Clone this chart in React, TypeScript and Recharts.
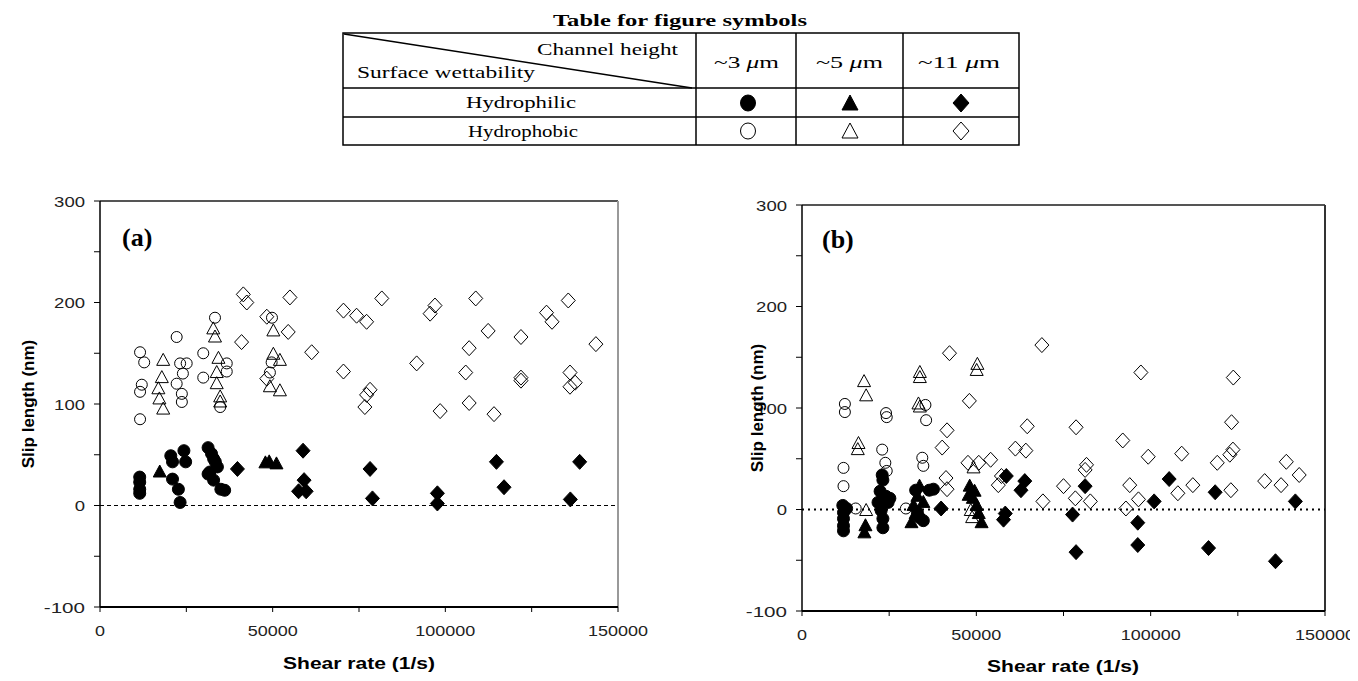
import React from 'react';
import { ScatterChart, Scatter, XAxis, YAxis, ReferenceLine } from 'recharts';

// axis ticks (labels only on every other tick)
const xTicks = [0, 25000, 50000, 75000, 100000, 125000, 150000];
const xLabels = [0, 50000, 100000, 150000];
const yTicks = [-100, -50, 0, 50, 100, 150, 200, 250, 300];
const yLabels = [-100, 0, 100, 200, 300];

// (a) hydrophilic
const aPhilic3 = [[11500, 28], [11500, 23], [11500, 16], [11500, 12], [20500, 49], [21000, 43], [24300, 54], [24800, 43], [21000, 26], [22700, 16], [23200, 3], [31300, 57], [32300, 51], [33400, 43], [31800, 33], [32900, 25], [35000, 16], [36100, 15], [31300, 31], [34000, 38], [32900, 46]];
const aPhilic5 = [[17300, 33], [47900, 42], [49000, 43], [51100, 41]];
const aPhilic11 = [[39800, 36], [58800, 54], [59100, 25], [57500, 14], [59700, 14], [78200, 36], [78900, 7], [97700, 12], [97700, 2], [114800, 43], [117000, 18], [136200, 6], [138900, 43]];
// (a) hydrophobic
const aPhobic3 = [[11600, 151], [12800, 141], [12100, 119], [11600, 112], [11600, 85], [22200, 166], [23200, 140], [25100, 140], [22200, 120], [23700, 110], [23700, 102], [24000, 130], [29900, 150], [29900, 126], [33300, 185], [34800, 97], [36700, 140], [36700, 132], [49700, 141], [49200, 131], [49800, 185]];
const aPhobic5 = [[18300, 143], [17900, 126], [16900, 115], [17200, 105], [18300, 95], [32800, 174], [33300, 166], [34300, 145], [33800, 131], [33800, 120], [34800, 107], [34800, 102], [50200, 172], [50200, 149], [52100, 143], [49200, 117], [52100, 113]];
const aPhobic11 = [[41500, 208], [42500, 200], [41000, 161], [48300, 186], [55000, 205], [54500, 171], [61300, 151], [48300, 125], [70500, 192], [74300, 187], [77200, 181], [81600, 204], [70500, 132], [78200, 114], [77200, 109], [76700, 97], [91700, 140], [95600, 189], [97000, 197], [98500, 93], [108800, 204], [112400, 172], [106900, 155], [105900, 131], [106900, 101], [114100, 90], [121900, 166], [121900, 126], [121900, 123], [129300, 190], [130900, 181], [135600, 202], [136100, 131], [137600, 121], [136100, 117], [143600, 159]];

// (b) hydrophilic
const bPhilic3 = [[11700, 4], [11900, -3], [11900, -9], [11900, -16], [11900, -21], [12800, 1], [23000, 34], [23200, 29], [22400, 18], [24100, 13], [24700, 7], [21800, 7], [22700, -1], [23200, -9], [23200, -18], [25200, 11], [32600, 19], [33100, -3], [33700, -8], [34800, -11], [36500, 19], [37700, 20]];
const bPhilic5 = [[18200, -16], [17900, -23], [33700, 23], [33100, 13], [32000, 4], [32600, -4], [31400, -13], [34800, 7], [48100, 23], [49500, 18], [49000, 11], [50100, 4], [50700, -4], [51500, -13], [47800, 14]];
const bPhilic11 = [[39900, 1], [58600, 33], [58300, -4], [57800, -10], [62800, 19], [63900, 28], [77600, -5], [78600, -42], [81200, 23], [96300, -13], [96300, -35], [101000, 8], [105300, 30], [116600, -38], [118500, 17], [135800, -51], [141500, 8]];
// (b) hydrophobic
const bPhobic3 = [[12300, 104], [12300, 96], [11900, 41], [11900, 23], [15400, 1], [23000, 59], [23900, 46], [24300, 38], [24100, 95], [24300, 91], [34500, 51], [34800, 43], [35600, 88], [35400, 103], [29800, 1]];
const bPhobic5 = [[17800, 126], [18400, 112], [16200, 65], [16000, 59], [18400, -1], [33800, 135], [33800, 130], [33400, 104], [33800, 101], [50300, 143], [50100, 137], [49200, 41], [48800, -8], [48400, -1]];
const bPhobic11 = [[42300, 154], [48000, 107], [68800, 162], [97200, 135], [123700, 130], [123200, 86], [41600, 78], [40200, 61], [41300, 31], [41600, 20], [47600, 46], [50700, 46], [54100, 49], [56300, 24], [57200, 33], [61200, 60], [64200, 58], [64600, 82], [69100, 8], [75000, 23], [78400, 11], [78600, 81], [81600, 44], [81200, 39], [82700, 8], [92000, 68], [92900, 1], [94000, 24], [96500, 10], [99300, 52], [107800, 16], [108900, 55], [112100, 24], [119100, 46], [122700, 54], [123600, 59], [123000, 19], [132700, 28], [137400, 24], [138900, 47], [142600, 34]];

const toPts = (arr: number[][]) => arr.map(([x, y]) => ({ x, y }));

function marker(kind: string, filled: boolean, cx: number, cy: number) {
  const fill = filled ? '#000' : 'none';
  if (kind === 'circle') {
    return <circle cx={cx} cy={cy} r={filled ? 6 : 5.5} fill={fill} stroke="#000" strokeWidth={1} />;
  }
  if (kind === 'triangle') {
    return <path d={`M${cx},${cy - 7}L${cx + 6.5},${cy + 5}L${cx - 6.5},${cy + 5}Z`} fill={fill} stroke="#000" strokeWidth={1} />;
  }
  return <path d={`M${cx},${cy - 7.5}L${cx + 7},${cy}L${cx},${cy + 7.5}L${cx - 7},${cy}Z`} fill={fill} stroke="#000" strokeWidth={1} />;
}

const XTick = (props: any) => {
  const { x, y, payload } = props;
  const v = payload.value;
  if (!xLabels.includes(v)) return <g />;
  const s = String(v);
  return (
    <text x={x} y={y} dy={22} textAnchor="middle" fontSize={15} fill="#222"
      fontFamily="'Liberation Sans', Arial, sans-serif" textLength={s.length * 10} lengthAdjust="spacingAndGlyphs">
      {s}
    </text>
  );
};

const YTick = (props: any) => {
  const { x, y, payload } = props;
  const v = payload.value;
  if (!yLabels.includes(v)) return <g />;
  const s = String(v);
  const w = s.length * 10.3;
  return (
    <text x={x - w} y={y} dy={5.5} textAnchor="start" fontSize={15} fill="#222"
      fontFamily="'Liberation Sans', Arial, sans-serif" textLength={w} lengthAdjust="spacingAndGlyphs">
      {s}
    </text>
  );
};

type Series = { data: number[][]; kind: string; filled: boolean };

const Panel = ({ series, dotted, left, top, margin }: { series: Series[]; dotted: boolean; left: number; top: number; margin: any }) => (
  <div style={{ position: 'absolute', left, top }}>
    <ScatterChart width={650} height={480} margin={margin}>
      <XAxis type="number" dataKey="x" domain={[0, 150000]} ticks={xTicks} interval={0} height={30}
        axisLine={{ stroke: '#000', strokeWidth: 2 }} tickLine={{ stroke: '#000' }} tickSize={5} tick={<XTick />} />
      <YAxis type="number" dataKey="y" domain={[-100, 300]} ticks={yTicks} interval={0} width={60}
        axisLine={{ stroke: '#000', strokeWidth: 1.5 }} tickLine={{ stroke: '#000' }} tickSize={6} tickMargin={9} tick={<YTick />} />
      <ReferenceLine y={300} stroke="#555" strokeWidth={2} />
      <ReferenceLine x={150000} stroke={dotted ? '#333' : '#999'} strokeWidth={2} />
      <ReferenceLine y={0} stroke="#000" strokeWidth={dotted ? 2 : 1} strokeDasharray={dotted ? '2 4' : '4 3'} />
      {series.map((s, i) => (
        <Scatter key={i} data={toPts(s.data)} isAnimationActive={false}
          shape={(p: any) => marker(s.kind, s.filled, p.cx, p.cy)} />
      ))}
    </ScatterChart>
  </div>
);

const seriesA: Series[] = [
  { data: aPhobic3, kind: 'circle', filled: false },
  { data: aPhobic5, kind: 'triangle', filled: false },
  { data: aPhobic11, kind: 'diamond', filled: false },
  { data: aPhilic3, kind: 'circle', filled: true },
  { data: aPhilic5, kind: 'triangle', filled: true },
  { data: aPhilic11, kind: 'diamond', filled: true },
];
const seriesB: Series[] = [
  { data: bPhobic3, kind: 'circle', filled: false },
  { data: bPhobic5, kind: 'triangle', filled: false },
  { data: bPhobic11, kind: 'diamond', filled: false },
  { data: bPhilic3, kind: 'circle', filled: true },
  { data: bPhilic5, kind: 'triangle', filled: true },
  { data: bPhilic11, kind: 'diamond', filled: true },
];

const serif = "'Liberation Serif', 'Times New Roman', serif";
const sans = "'Liberation Sans', Arial, sans-serif";

function legendSym(kind: string, filled: boolean, cx: number, cy: number) {
  const fill = filled ? '#000' : 'none';
  if (kind === 'circle') return <ellipse cx={cx} cy={cy} rx={7.5} ry={8} fill={fill} stroke="#000" strokeWidth={1} />;
  if (kind === 'triangle') return <path d={`M${cx},${cy - 8}L${cx + 8},${cy + 7}L${cx - 8},${cy + 7}Z`} fill={fill} stroke="#000" strokeWidth={1} />;
  return <path d={`M${cx},${cy - 9}L${cx + 8},${cy}L${cx},${cy + 9}L${cx - 8},${cy}Z`} fill={fill} stroke="#000" strokeWidth={1} />;
}

const Overlay = () => (
  <svg width={1358} height={681} style={{ position: 'absolute', left: 0, top: 0, pointerEvents: 'none' }}>
    {/* symbol table */}
    <text x={680} y={26} textAnchor="middle" fontFamily={serif} fontWeight="bold" fontSize={17} textLength={254} lengthAdjust="spacingAndGlyphs">Table for figure symbols</text>
    <rect x={343} y={33} width={676} height={112} fill="none" stroke="#000" strokeWidth={1.5} />
    <line x1={343} y1={88} x2={1019} y2={88} stroke="#000" strokeWidth={1.5} />
    <line x1={343} y1={117} x2={1019} y2={117} stroke="#000" strokeWidth={1.5} />
    <line x1={696} y1={33} x2={696} y2={145} stroke="#000" strokeWidth={1.5} />
    <line x1={796} y1={33} x2={796} y2={145} stroke="#000" strokeWidth={1.5} />
    <line x1={903} y1={33} x2={903} y2={145} stroke="#000" strokeWidth={1.5} />
    <line x1={344} y1={34} x2={692} y2={88} stroke="#000" strokeWidth={1.5} />
    <text x={537} y={55} fontFamily={serif} fontSize={17} textLength={141} lengthAdjust="spacingAndGlyphs">Channel height</text>
    <text x={357} y={78} fontFamily={serif} fontSize={17} textLength={178} lengthAdjust="spacingAndGlyphs">Surface wettability</text>
    <text x={714} y={68} fontFamily={serif} fontSize={17} textLength={65} lengthAdjust="spacingAndGlyphs">~3 <tspan fontStyle="italic">μ</tspan>m</text>
    <text x={816} y={68} fontFamily={serif} fontSize={17} textLength={67} lengthAdjust="spacingAndGlyphs">~5 <tspan fontStyle="italic">μ</tspan>m</text>
    <text x={918} y={68} fontFamily={serif} fontSize={17} textLength={82} lengthAdjust="spacingAndGlyphs">~11 <tspan fontStyle="italic">μ</tspan>m</text>
    <text x={521} y={108} textAnchor="middle" fontFamily={serif} fontSize={17} textLength={110} lengthAdjust="spacingAndGlyphs">Hydrophilic</text>
    <text x={523} y={137} textAnchor="middle" fontFamily={serif} fontSize={17} textLength={110} lengthAdjust="spacingAndGlyphs">Hydrophobic</text>
    {legendSym('circle', true, 748, 103)}
    {legendSym('triangle', true, 850, 103)}
    {legendSym('diamond', true, 961, 103)}
    {legendSym('circle', false, 748, 131)}
    {legendSym('triangle', false, 850, 131)}
    {legendSym('diamond', false, 961, 131)}

    {/* panel labels */}
    <text x={122} y={246} fontFamily={serif} fontWeight="bold" fontSize={26}>(a)</text>
    <text x={822} y={248} fontFamily={serif} fontWeight="bold" fontSize={26}>(b)</text>

    {/* axis titles */}
    <text x={359} y={669} textAnchor="middle" fontFamily={sans} fontWeight="bold" fontSize={17} textLength={152} lengthAdjust="spacingAndGlyphs">Shear rate (1/s)</text>
    <text x={1063} y={672} textAnchor="middle" fontFamily={sans} fontWeight="bold" fontSize={17} textLength={152} lengthAdjust="spacingAndGlyphs">Shear rate (1/s)</text>
    <text transform="translate(34,404) rotate(-90)" textAnchor="middle" fontFamily={sans} fontWeight="bold" fontSize={17}>Slip length (nm)</text>
    <text transform="translate(763,408) rotate(-90)" textAnchor="middle" fontFamily={sans} fontWeight="bold" fontSize={17}>Slip length (nm)</text>
  </svg>
);

export default function App() {
  return (
    <div style={{ position: 'absolute', left: 0, top: 0, width: 1358, height: 681, background: '#fff' }}>
      <Panel series={seriesA} dotted={false} left={0} top={190} margin={{ top: 11, right: 32, left: 40, bottom: 33 }} />
      <Panel series={seriesB} dotted={true} left={700} top={190} margin={{ top: 15, right: 25, left: 42, bottom: 29 }} />
      <Overlay />
    </div>
  );
}
